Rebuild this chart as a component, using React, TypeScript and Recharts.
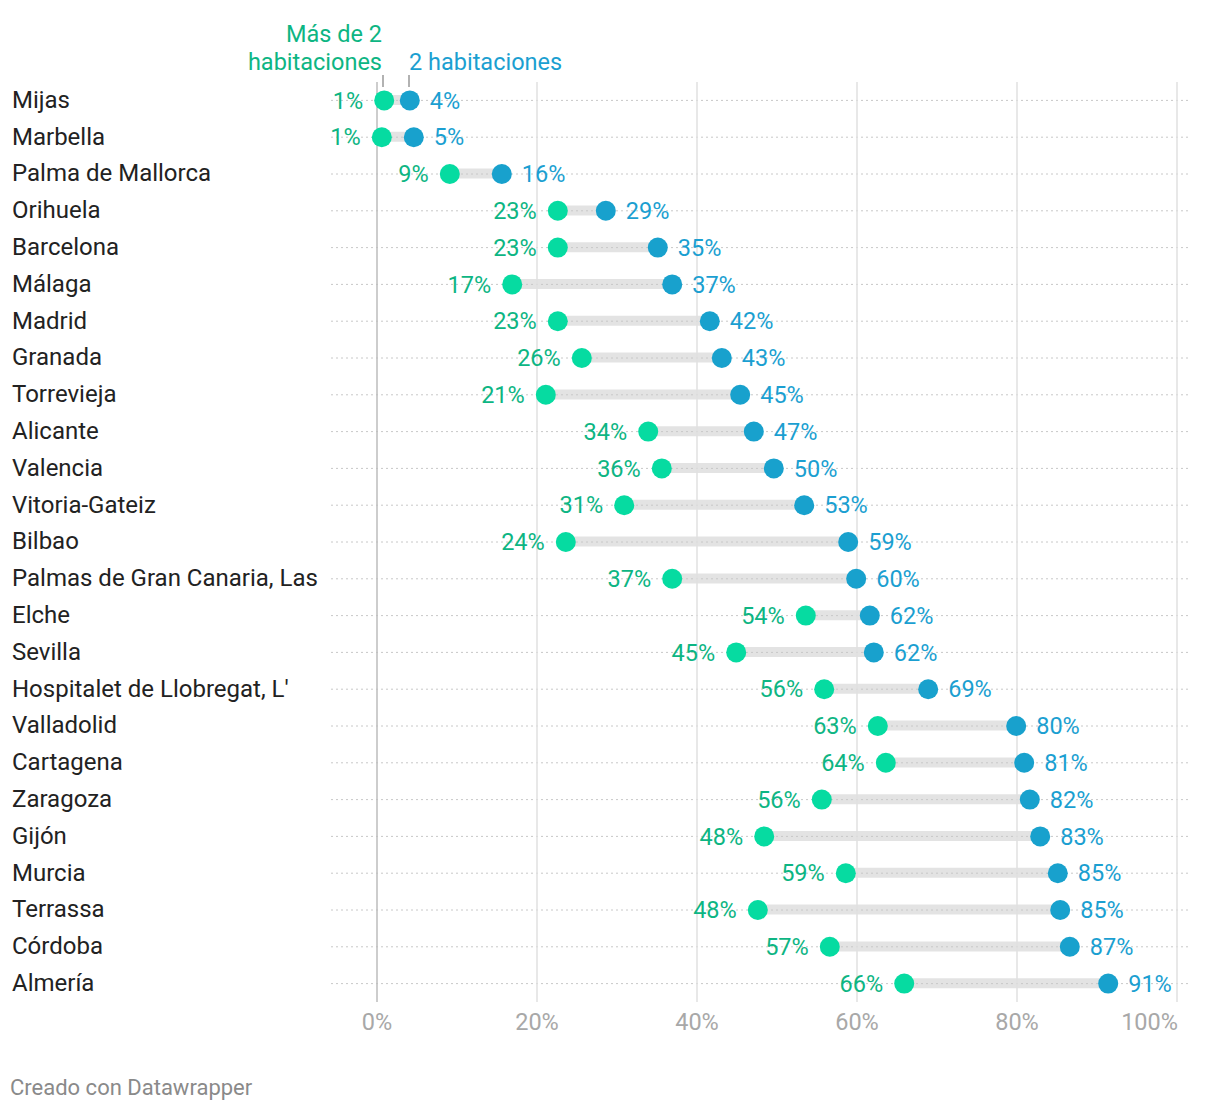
import React from "react";
import {
  ComposedChart,
  Bar,
  Line,
  XAxis,
  YAxis,
  ReferenceLine,
  LabelList,
} from "recharts";

const cities = [
  "Mijas",
  "Marbella",
  "Palma de Mallorca",
  "Orihuela",
  "Barcelona",
  "Málaga",
  "Madrid",
  "Granada",
  "Torrevieja",
  "Alicante",
  "Valencia",
  "Vitoria-Gateiz",
  "Bilbao",
  "Palmas de Gran Canaria, Las",
  "Elche",
  "Sevilla",
  "Hospitalet de Llobregat, L'",
  "Valladolid",
  "Cartagena",
  "Zaragoza",
  "Gijón",
  "Murcia",
  "Terrassa",
  "Córdoba",
  "Almería",
];

const masDe2 = [
  0.9, 0.6, 9.1, 22.6, 22.6, 16.9, 22.6, 25.6, 21.1, 33.9, 35.6, 30.9, 23.6,
  36.9, 53.6, 44.9, 55.9, 62.6, 63.6, 55.6, 48.4, 58.6, 47.6, 56.6, 65.9,
];

const dos = [
  4.1, 4.6, 15.6, 28.6, 35.1, 36.9, 41.6, 43.1, 45.4, 47.1, 49.6, 53.4, 58.9,
  59.9, 61.6, 62.1, 68.9, 79.9, 80.9, 81.6, 82.9, 85.1, 85.4, 86.6, 91.4,
];

const xTicks = [0, 20, 40, 60, 80, 100];

const GREEN_DOT = "#06dba1";
const GREEN_TEXT = "#0db583";
const BLUE_DOT = "#18a1cd";
const BLUE_TEXT = "#1b9fd1";
const FONT = "Roboto, 'Noto Sans', sans-serif";
const FS = 23.5;

const data = cities.map((city, i) => ({
  city,
  g: masDe2[i],
  b: dos[i],
  range: [masDe2[i], dos[i]],
}));

const CityTick = (props: any) => {
  const { y, payload } = props;
  return (
    <text
      x={12}
      y={y - 1}
      dy="0.35em"
      textAnchor="start"
      fontSize={24}
      fontFamily={FONT}
      fill="#222"
    >
      {payload.value}
    </text>
  );
};

const XTick = (props: any) => {
  const { x, y, payload } = props;
  const last = payload.value === 100;
  return (
    <text
      x={last ? x + 1 : x}
      y={y}
      dy="0.75em"
      textAnchor={last ? "end" : "middle"}
      fontSize={FS}
      fontFamily={FONT}
      fill="#a8a8a8"
    >
      {payload.value}%
    </text>
  );
};

const makeLabel = (side: "left" | "right", color: string) => (props: any) => {
  const px = props.viewBox?.x ?? props.x;
  const py = props.viewBox?.y ?? props.y;
  const v = Math.round(Number(props.value));
  return (
    <text
      x={side === "left" ? px - 21 : px + 20}
      y={py}
      dy="0.35em"
      textAnchor={side === "left" ? "end" : "start"}
      fontSize={FS}
      fontFamily={FONT}
      fill={color}
    >
      {v}%
    </text>
  );
};

export default function App() {
  return (
    <div style={{ position: "relative", width: 1220, height: 1110, fontFamily: FONT }}>
      <style>{`body{margin:0;}`}</style>
      <ComposedChart
        width={1220}
        height={1110}
        data={data}
        layout="vertical"
        margin={{ top: 82, right: 29, left: 0, bottom: 68 }}
      >
        {cities.map((c) => (
          <ReferenceLine key={c} y={c} stroke="#c8c8c8" strokeDasharray="2 3" />
        ))}
        {xTicks.slice(1).map((t) => (
          <ReferenceLine key={t} x={t} stroke="#e0e0e0" strokeWidth={1.5} />
        ))}
        <XAxis
          type="number"
          domain={[-5.75, 101.75]}
          ticks={xTicks}
          allowDataOverflow
          axisLine={false}
          tickLine={false}
          tickMargin={4}
          height={40}
          tick={<XTick />}
        />
        <YAxis
          type="category"
          dataKey="city"
          width={331}
          axisLine={false}
          tickLine={false}
          tick={<CityTick />}
          interval={0}
        />
        <Bar
          dataKey="range"
          barSize={10}
          fill="#000"
          fillOpacity={0.11}
          isAnimationActive={false}
        />
        <ReferenceLine x={0} stroke="#bdbdbd" strokeWidth={1.5} />
        <Line
          dataKey="g"
          stroke="none"
          dot={{ r: 10, fill: GREEN_DOT, stroke: "none" }}
          activeDot={false}
          isAnimationActive={false}
        >
          <LabelList dataKey="g" content={makeLabel("left", GREEN_TEXT)} />
        </Line>
        <Line
          dataKey="b"
          stroke="none"
          dot={{ r: 10, fill: BLUE_DOT, stroke: "none" }}
          activeDot={false}
          isAnimationActive={false}
        >
          <LabelList dataKey="b" content={makeLabel("right", BLUE_TEXT)} />
        </Line>
      </ComposedChart>
      <svg
        width={1220}
        height={1110}
        style={{ position: "absolute", left: 0, top: 0, pointerEvents: "none" }}
      >
        <text x={382} y={34} dy="0.35em" textAnchor="end" fontSize={FS} fontFamily={FONT} fill={GREEN_TEXT}>
          Más de 2
        </text>
        <text x={382} y={62} dy="0.35em" textAnchor="end" fontSize={FS} fontFamily={FONT} fill={GREEN_TEXT}>
          habitaciones
        </text>
        <text x={409} y={62} dy="0.35em" textAnchor="start" fontSize={FS} fontFamily={FONT} fill={BLUE_TEXT}>
          2 habitaciones
        </text>
        <line x1={383} x2={383} y1={75} y2={87} stroke="#999" strokeWidth={1.5} />
        <line x1={409} x2={409} y1={75} y2={87} stroke="#999" strokeWidth={1.5} />
        <text x={10} y={1087} dy="0.35em" textAnchor="start" fontSize={22} fontFamily={FONT} fill="#8a8a8a">
          Creado con Datawrapper
        </text>
      </svg>
    </div>
  );
}
